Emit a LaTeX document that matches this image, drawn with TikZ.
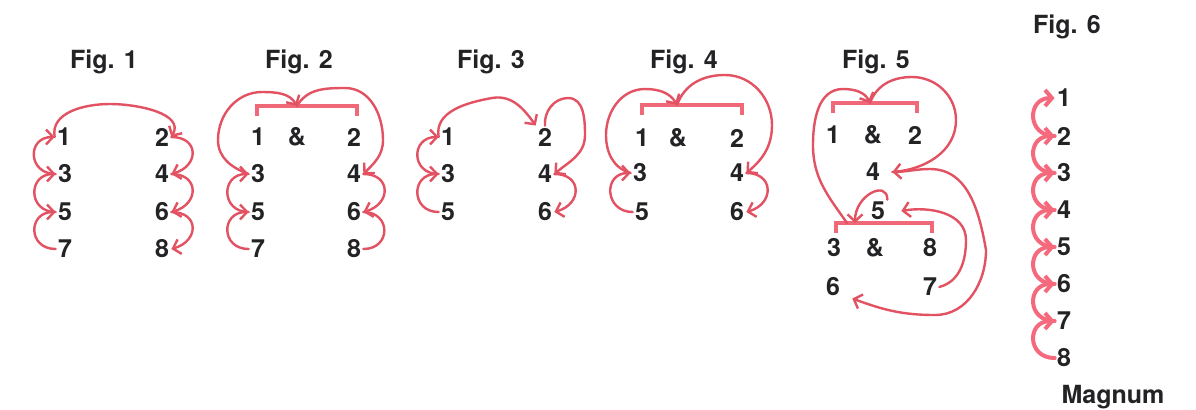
\documentclass[tikz,border=0pt]{standalone}
\usepackage{fontspec}
\setmainfont{TeX Gyre Heros}
\usetikzlibrary{arrows.meta}
\definecolor{ink}{RGB}{35,35,38}
\definecolor{pen}{RGB}{226,82,98}
\definecolor{penlight}{RGB}{240,105,120}
\definecolor{penbright}{RGB}{245,105,125}
\begin{document}
\begin{tikzpicture}[x=0.5pt,y=-0.5pt,
 num/.style={inner sep=1pt,font=\fontsize{12.5}{14}\selectfont\bfseries,text=ink},
 figlbl/.style={anchor=base,inner sep=0pt,font=\fontsize{12.5}{14}\selectfont\bfseries,text=ink},
 lnk/.style={draw=pen,line width=1.2pt,line cap=round},
 arr/.style={lnk,-{Straight Barb[length=3.5pt,width=7.5pt]}},
 brk/.style={draw=penlight,line width=1.6pt},
 bigarr/.style={draw=penbright,line width=2pt,line cap=round,-{Straight Barb[length=3.5pt,width=8pt]}}]
\useasboundingbox[fill=white] (0,0) rectangle (1196,409);

% ---------- Fig. 1
\node[figlbl] (t1) at (104,68) {Fig. 1};
\node[num] (f1n1) at (64,137) {1};
\node[num] (f1n2) at (162,137) {2};
\node[num] (f1n3) at (65,174) {3};
\node[num] (f1n4) at (162,174) {4};
\node[num] (f1n5) at (65,212) {5};
\node[num] (f1n6) at (162,212) {6};
\node[num] (f1n7) at (65,249) {7};
\node[num] (f1n8) at (162,249) {8};
\draw[arr] (f1n7.west) .. controls +(-28,0) and +(-28,0) .. (f1n5.west);
\draw[arr] (f1n5.west) .. controls +(-28,0) and +(-28,0) .. (f1n3.west);
\draw[arr] (f1n3.west) .. controls +(-28,0) and +(-28,0) .. (f1n1.west);
\draw[arr] (f1n1.west) to[out=100,in=180] (110,104) to[out=0,in=60] (f1n2.east);
\draw[arr] (f1n2.east) .. controls +(28,0) and +(28,-8) .. (f1n4.east);
\draw[arr] (f1n4.east) .. controls +(28,0) and +(28,-8) .. (f1n6.east);
\draw[arr] (f1n6.east) .. controls +(28,0) and +(28,-8) .. (f1n8.east);

% ---------- Fig. 2
\node[figlbl] (t2) at (299,68) {Fig. 2};
\node[num] (f2n1) at (258,137) {1};
\node[num] (f2a) at (297,137) {\&};
\node[num] (f2n2) at (354,137) {2};
\node[num] (f2n3) at (258,174) {3};
\node[num] (f2n4) at (354,174) {4};
\node[num] (f2n5) at (258,212) {5};
\node[num] (f2n6) at (354,212) {6};
\node[num] (f2n7) at (258,249) {7};
\node[num] (f2n8) at (354,249) {8};
\coordinate (f2bl) at (257,116);
\coordinate (f2br) at (357,116);
\coordinate (f2bc) at (297,106);
\draw[brk] (f2bl) |- (f2bc) -| (f2br);
\draw[arr] (f2n7.west) .. controls +(-28,0) and +(-28,0) .. (f2n5.west);
\draw[arr] (f2n5.west) .. controls +(-28,0) and +(-28,0) .. (f2n3.west);
\draw[arr] (f2n3.west) to[out=160,in=270] (218,140) to[out=90,in=180] (262,92) to[out=0,in=120] (f2bc);
\draw[arr] (f2bc) to[out=60,in=180] (345,88) to[out=0,in=90] (383,140) to[out=270,in=45] (f2n4.east);
\draw[arr] (f2n4.east) .. controls +(28,0) and +(28,-8) .. (f2n6.east);
\draw[lnk] (f2n6.east) .. controls +(28,0) and +(28,0) .. (f2n8.east);

% ---------- Fig. 3
\node[figlbl] (t3) at (491,68) {Fig. 3};
\node[num] (f3n1) at (448,137) {1};
\node[num] (f3n2) at (545,137) {2};
\node[num] (f3n3) at (448,174) {3};
\node[num] (f3n4) at (545,174) {4};
\node[num] (f3n5) at (448,212) {5};
\node[num] (f3n6) at (545,212) {6};
\draw[arr] (f3n5.west) .. controls +(-28,0) and +(-28,0) .. (f3n3.west);
\draw[arr] (f3n3.west) .. controls +(-28,0) and +(-28,0) .. (f3n1.west);
\draw[arr] (f3n1.west) to[out=100,in=190] (492,98) to[out=10,in=125] (f3n2.north west);
\draw[arr] (f3n2.north) to[out=95,in=180] (568,98) to[out=0,in=90] (585,135) to[out=270,in=40] (f3n4.east);
\draw[arr] (f3n4.east) .. controls +(28,0) and +(28,-8) .. (f3n6.east);

% ---------- Fig. 4
\node[figlbl] (t4) at (684,68) {Fig. 4};
\node[num] (f4n1) at (642,138) {1};
\node[num] (f4a) at (678,138) {\&};
\node[num] (f4n2) at (737,138) {2};
\node[num] (f4n3) at (640,173) {3};
\node[num] (f4n4) at (737,173) {4};
\node[num] (f4n5) at (642,212) {5};
\node[num] (f4n6) at (737,212) {6};
\coordinate (f4bl) at (642,115);
\coordinate (f4br) at (742,115);
\coordinate (f4bc) at (677,105);
\draw[brk] (f4bl) |- (f4bc) -| (f4br);
\draw[arr] (f4n5.west) .. controls +(-28,0) and +(-28,0) .. (f4n3.west);
\draw[arr] (f4n3.west) to[out=165,in=270] (606,135) to[out=90,in=180] (645,89) to[out=0,in=120] (f4bc);
\draw[arr] (f4bc) to[out=70,in=180] (725,75) to[out=0,in=90] (772,125) to[out=270,in=40] (f4n4.east);
\draw[arr] (f4n4.east) .. controls +(28,0) and +(28,-8) .. (f4n6.east);

% ---------- Fig. 5
\node[figlbl] (t5) at (876,68) {Fig. 5};
\node[num] (f5n1) at (833,135) {1};
\node[num] (f5a1) at (873,135) {\&};
\node[num] (f5n2) at (915,135) {2};
\node[num] (f5n4) at (873,172) {4};
\node[num] (f5n5) at (878,211) {5};
\node[num] (f5n3) at (834,248) {3};
\node[num] (f5a2) at (875,248) {\&};
\node[num] (f5n8) at (930,248) {8};
\node[num] (f5n6) at (833,287) {6};
\node[num] (f5n7) at (930,287) {7};
\coordinate (f5tl) at (833,113);
\coordinate (f5tr) at (917,113);
\coordinate (f5tc) at (870,103);
\coordinate (f5ll) at (836,233);
\coordinate (f5lr) at (932,233);
\coordinate (f5lc) at (855,223);
\coordinate (f5lj) at (847,223);
\draw[brk] (f5tl) |- (f5tc) -| (f5tr);
\draw[brk] (f5ll) |- (f5lc) -| (f5lr);
\draw[arr] (f5n7.east) to[out=15,in=270] (966,240) to[out=90,in=10] ([xshift=7pt]f5n5.east);
\draw[arr] (f5n5.north east) .. controls +(0,-20) and +(0,-28) .. (f5lc);
\draw[arr] (f5lj) to[out=125,in=270] (813,145) to[out=90,in=180] (843,89) to[out=0,in=115] (f5tc);
\draw[arr] (f5tc) to[out=70,in=180] (912,77) to[out=0,in=90] (956,120) to[out=270,in=5] ([xshift=5pt]f5n4.east);
\draw[arr] ([xshift=5pt]f5n4.east) to[out=0,in=180] (930,169) to[out=0,in=100] (986,250) to[out=270,in=0] (935,315) to[out=180,in=-20] ([xshift=5pt]f5n6.south east);

% ---------- Fig. 6
\node[figlbl] (t6) at (1067,33) {Fig. 6};
\node[num] (f6n1) at (1064,98) {1};
\node[num] (f6n2) at (1064,136) {2};
\node[num] (f6n3) at (1064,173) {3};
\node[num] (f6n4) at (1064,210) {4};
\node[num] (f6n5) at (1064,247) {5};
\node[num] (f6n6) at (1064,284) {6};
\node[num] (f6n7) at (1064,321) {7};
\node[num] (f6n8) at (1064,358) {8};
\node[figlbl] (mag) at (1113,403) {Magnum};
\draw[bigarr] (f6n8.west) .. controls +(-28,0) and +(-28,0) .. (f6n7.west);
\draw[bigarr] (f6n7.west) .. controls +(-28,0) and +(-28,0) .. (f6n6.west);
\draw[bigarr] (f6n6.west) .. controls +(-28,0) and +(-28,0) .. (f6n5.west);
\draw[bigarr] (f6n5.west) .. controls +(-28,0) and +(-28,0) .. (f6n4.west);
\draw[bigarr] (f6n4.west) .. controls +(-28,0) and +(-28,0) .. (f6n3.west);
\draw[bigarr] (f6n3.west) .. controls +(-28,0) and +(-28,0) .. (f6n2.west);
\draw[bigarr] (f6n2.west) .. controls +(-28,0) and +(-28,0) .. (f6n1.west);
\end{tikzpicture}
\end{document}
